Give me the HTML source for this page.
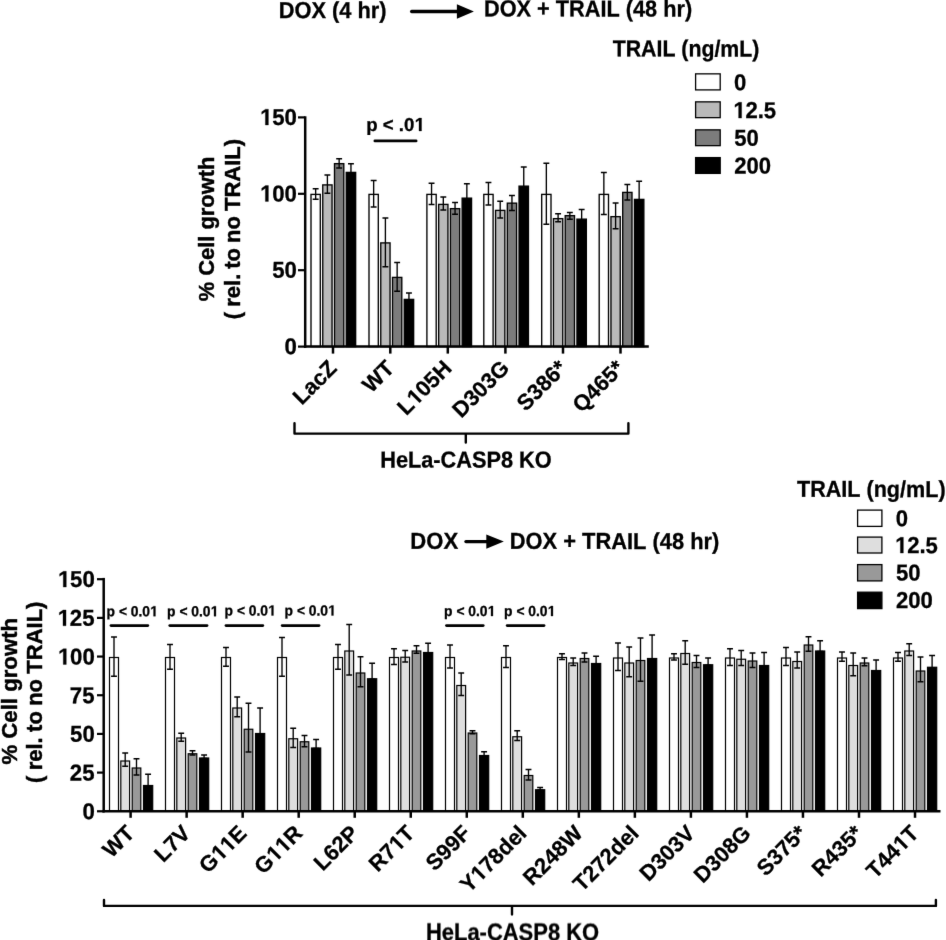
<!DOCTYPE html>
<html><head><meta charset="utf-8"><title>chart</title>
<style>
html,body{margin:0;padding:0;background:#fff;}
body{width:946px;height:940px;overflow:hidden;font-family:'Liberation Sans', sans-serif;}
svg{display:block;}
svg text{font-family:'Liberation Sans', sans-serif;font-weight:bold;fill:#000;stroke:#000;stroke-width:0.3px;}
svg g.t path{fill:#000;stroke:#000;}
svg g.tr text{stroke-width:0.45px;}
</style></head>
<body>
<svg width="946" height="940" viewBox="0 0 946 940">
<defs><filter id="soft" x="0" y="0" width="946" height="940" filterUnits="userSpaceOnUse" color-interpolation-filters="sRGB">
<feConvolveMatrix order="3" kernelMatrix="0.005 0.06 0.005 0.06 0.74 0.06 0.005 0.06 0.005" divisor="1" edgeMode="duplicate" preserveAlpha="false"/>
</filter></defs>
<g filter="url(#soft)">
<rect width="946" height="940" fill="#fff"/>
<rect x="311.00" y="194.40" width="9.30" height="152.20" fill="#ffffff" stroke="#000" stroke-width="1.35"/>
<path d="M315.65 188.75V199.25M312.70 188.75h5.9M312.70 199.25h5.9" stroke="#000" stroke-width="1.35" fill="none"/>
<rect x="322.75" y="184.90" width="9.30" height="161.70" fill="#b9b9b9" stroke="#000" stroke-width="1.35"/>
<path d="M327.40 175.00V193.25M324.45 175.00h5.9M324.45 193.25h5.9" stroke="#000" stroke-width="1.35" fill="none"/>
<rect x="334.50" y="163.65" width="9.30" height="182.95" fill="#7c7c7c" stroke="#000" stroke-width="1.35"/>
<path d="M339.15 158.75V168.00M336.20 158.75h5.9M336.20 168.00h5.9" stroke="#000" stroke-width="1.35" fill="none"/>
<rect x="346.25" y="172.40" width="9.40" height="174.20" fill="#000000" stroke="#000" stroke-width="1.35"/>
<path d="M350.95 163.75V173.50M348.00 163.75h5.9M348.00 173.50h5.9" stroke="#000" stroke-width="1.35" fill="none"/>
<rect x="369.00" y="194.40" width="9.30" height="152.20" fill="#ffffff" stroke="#000" stroke-width="1.35"/>
<path d="M373.65 180.50V207.00M370.70 180.50h5.9M370.70 207.00h5.9" stroke="#000" stroke-width="1.35" fill="none"/>
<rect x="380.75" y="242.90" width="9.30" height="103.70" fill="#b9b9b9" stroke="#000" stroke-width="1.35"/>
<path d="M385.40 218.00V266.75M382.45 218.00h5.9M382.45 266.75h5.9" stroke="#000" stroke-width="1.35" fill="none"/>
<rect x="392.50" y="277.40" width="9.30" height="69.20" fill="#7c7c7c" stroke="#000" stroke-width="1.35"/>
<path d="M397.15 262.50V291.25M394.20 262.50h5.9M394.20 291.25h5.9" stroke="#000" stroke-width="1.35" fill="none"/>
<rect x="404.25" y="299.40" width="9.40" height="47.20" fill="#000000" stroke="#000" stroke-width="1.35"/>
<path d="M408.95 293.00V300.50M406.00 293.00h5.9M406.00 300.50h5.9" stroke="#000" stroke-width="1.35" fill="none"/>
<rect x="426.90" y="194.40" width="9.30" height="152.20" fill="#ffffff" stroke="#000" stroke-width="1.35"/>
<path d="M431.55 183.25V204.50M428.60 183.25h5.9M428.60 204.50h5.9" stroke="#000" stroke-width="1.35" fill="none"/>
<rect x="438.65" y="204.40" width="9.30" height="142.20" fill="#b9b9b9" stroke="#000" stroke-width="1.35"/>
<path d="M443.30 197.00V210.00M440.35 197.00h5.9M440.35 210.00h5.9" stroke="#000" stroke-width="1.35" fill="none"/>
<rect x="450.40" y="208.65" width="9.30" height="137.95" fill="#7c7c7c" stroke="#000" stroke-width="1.35"/>
<path d="M455.05 202.50V214.25M452.10 202.50h5.9M452.10 214.25h5.9" stroke="#000" stroke-width="1.35" fill="none"/>
<rect x="462.15" y="198.15" width="9.40" height="148.45" fill="#000000" stroke="#000" stroke-width="1.35"/>
<path d="M466.85 183.75V199.25M463.90 183.75h5.9M463.90 199.25h5.9" stroke="#000" stroke-width="1.35" fill="none"/>
<rect x="483.80" y="194.40" width="9.30" height="152.20" fill="#ffffff" stroke="#000" stroke-width="1.35"/>
<path d="M488.45 182.50V205.00M485.50 182.50h5.9M485.50 205.00h5.9" stroke="#000" stroke-width="1.35" fill="none"/>
<rect x="495.55" y="210.40" width="9.30" height="136.20" fill="#b9b9b9" stroke="#000" stroke-width="1.35"/>
<path d="M500.20 201.25V218.00M497.25 201.25h5.9M497.25 218.00h5.9" stroke="#000" stroke-width="1.35" fill="none"/>
<rect x="507.30" y="203.15" width="9.30" height="143.45" fill="#7c7c7c" stroke="#000" stroke-width="1.35"/>
<path d="M511.95 195.50V210.50M509.00 195.50h5.9M509.00 210.50h5.9" stroke="#000" stroke-width="1.35" fill="none"/>
<rect x="519.05" y="186.15" width="9.40" height="160.45" fill="#000000" stroke="#000" stroke-width="1.35"/>
<path d="M523.75 167.00V187.25M520.80 167.00h5.9M520.80 187.25h5.9" stroke="#000" stroke-width="1.35" fill="none"/>
<rect x="541.70" y="194.40" width="9.30" height="152.20" fill="#ffffff" stroke="#000" stroke-width="1.35"/>
<path d="M546.35 163.25V224.25M543.40 163.25h5.9M543.40 224.25h5.9" stroke="#000" stroke-width="1.35" fill="none"/>
<rect x="553.45" y="218.65" width="9.30" height="127.95" fill="#b9b9b9" stroke="#000" stroke-width="1.35"/>
<path d="M558.10 213.75V221.75M555.15 213.75h5.9M555.15 221.75h5.9" stroke="#000" stroke-width="1.35" fill="none"/>
<rect x="565.20" y="215.65" width="9.30" height="130.95" fill="#7c7c7c" stroke="#000" stroke-width="1.35"/>
<path d="M569.85 212.50V219.25M566.90 212.50h5.9M566.90 219.25h5.9" stroke="#000" stroke-width="1.35" fill="none"/>
<rect x="576.95" y="219.15" width="9.40" height="127.45" fill="#000000" stroke="#000" stroke-width="1.35"/>
<path d="M581.65 209.50V220.25M578.70 209.50h5.9M578.70 220.25h5.9" stroke="#000" stroke-width="1.35" fill="none"/>
<rect x="599.20" y="194.40" width="9.30" height="152.20" fill="#ffffff" stroke="#000" stroke-width="1.35"/>
<path d="M603.85 172.50V214.50M600.90 172.50h5.9M600.90 214.50h5.9" stroke="#000" stroke-width="1.35" fill="none"/>
<rect x="610.95" y="216.65" width="9.30" height="129.95" fill="#b9b9b9" stroke="#000" stroke-width="1.35"/>
<path d="M615.60 203.00V228.75M612.65 203.00h5.9M612.65 228.75h5.9" stroke="#000" stroke-width="1.35" fill="none"/>
<rect x="622.70" y="192.40" width="9.30" height="154.20" fill="#7c7c7c" stroke="#000" stroke-width="1.35"/>
<path d="M627.35 184.50V200.00M624.40 184.50h5.9M624.40 200.00h5.9" stroke="#000" stroke-width="1.35" fill="none"/>
<rect x="634.45" y="199.40" width="9.40" height="147.20" fill="#000000" stroke="#000" stroke-width="1.35"/>
<path d="M639.15 181.25V200.50M636.20 181.25h5.9M636.20 200.50h5.9" stroke="#000" stroke-width="1.35" fill="none"/>
<path d="M305.2 116.3V347.85" stroke="#000" stroke-width="2.5" fill="none"/>
<path d="M303.95 346.6H648.8" stroke="#000" stroke-width="2.5" fill="none"/>
<path d="M298 117.4H305.2" stroke="#000" stroke-width="2.2" fill="none"/>
<g class="t" transform="translate(259.86 125.0) rotate(0.05) scale(0.9650 1)"><path transform="translate(0.00 0) scale(0.01123 -0.01123)" d="M508 0V1170L170 959V1180L523 1409H789V0Z" stroke-width="26.7"/><text x="12.79" y="0" font-size="23.0" xml:space="preserve">50</text></g>
<path d="M298 193.8H305.2" stroke="#000" stroke-width="2.2" fill="none"/>
<g class="t" transform="translate(259.86 201.4) rotate(0.05) scale(0.9650 1)"><path transform="translate(0.00 0) scale(0.01123 -0.01123)" d="M508 0V1170L170 959V1180L523 1409H789V0Z" stroke-width="26.7"/><text x="12.79" y="0" font-size="23.0" xml:space="preserve">00</text></g>
<path d="M298 270.2H305.2" stroke="#000" stroke-width="2.2" fill="none"/>
<g class="t" transform="translate(272.20 277.8) rotate(0.05) scale(0.9650 1)"><text x="0.00" y="0" font-size="23.0" xml:space="preserve">50</text></g>
<path d="M298 346.6H305.2" stroke="#000" stroke-width="2.2" fill="none"/>
<g class="t" transform="translate(284.52 354.2) rotate(0.05) scale(0.9650 1)"><text x="0.00" y="0" font-size="23.0" xml:space="preserve">0</text></g>
<path d="M333 346.6V353.6" stroke="#000" stroke-width="2.5" fill="none"/>
<path d="M390.3 346.6V353.6" stroke="#000" stroke-width="2.5" fill="none"/>
<path d="M447.8 346.6V353.6" stroke="#000" stroke-width="2.5" fill="none"/>
<path d="M505.4 346.6V353.6" stroke="#000" stroke-width="2.5" fill="none"/>
<path d="M563 346.6V353.6" stroke="#000" stroke-width="2.5" fill="none"/>
<path d="M620.5 346.6V353.6" stroke="#000" stroke-width="2.5" fill="none"/>
<g class="t" transform="translate(338.1 369.5) rotate(-45)"><text x="-51.35" y="0" font-size="22.0" xml:space="preserve">LacZ</text></g>
<g class="t" transform="translate(395.40000000000003 369.5) rotate(-45)"><text x="-34.20" y="0" font-size="22.0" xml:space="preserve">WT</text></g>
<g class="t" transform="translate(452.90000000000003 369.5) rotate(-45)"><text x="-66.03" y="0" font-size="22.0" xml:space="preserve">L</text><path transform="translate(-52.60 0) scale(0.01074 -0.01074)" d="M508 0V1170L170 959V1180L523 1409H789V0Z" stroke-width="27.9"/><text x="-40.36" y="0" font-size="22.0" xml:space="preserve">05H</text></g>
<g class="t" transform="translate(510.5 369.5) rotate(-45)"><text x="-69.71" y="0" font-size="22.0" xml:space="preserve">D303G</text></g>
<g class="t" transform="translate(568.1 369.5) rotate(-45)"><text x="-59.94" y="0" font-size="22.0" xml:space="preserve">S386*</text></g>
<g class="t" transform="translate(625.6 369.5) rotate(-45)"><text x="-62.38" y="0" font-size="22.0" xml:space="preserve">Q465*</text></g>
<g class="t tr" transform="translate(214.3 301.35) rotate(-90) scale(0.9949 1)"><text x="0.00" y="0" font-size="22.0" xml:space="preserve">%</text><text x="25.67" y="0" font-size="22.0" xml:space="preserve">Cell</text><text x="72.14" y="0" font-size="22.0" xml:space="preserve">growth</text></g>
<g class="t tr" transform="translate(240.0 319.15) rotate(-90) scale(1.0000 1)"><text x="0.00" y="0" font-size="22.0" xml:space="preserve">(</text><text x="12.38" y="0" font-size="22.0" xml:space="preserve">rel.</text><text x="50.45" y="0" font-size="22.0" xml:space="preserve">to</text><text x="76.27" y="0" font-size="22.0" xml:space="preserve">no</text><text x="108.20" y="0" font-size="22.0" xml:space="preserve">TRAIL)</text></g>
<g class="t" transform="translate(366.24 130.9) rotate(0.05) scale(0.9959 1)"><text x="0.00" y="0" font-size="18.7" xml:space="preserve">p</text><text x="16.62" y="0" font-size="18.7" xml:space="preserve">&lt;</text><text x="32.74" y="0" font-size="18.7" xml:space="preserve">.0</text><path transform="translate(48.33 0) scale(0.00913 -0.00913)" d="M508 0V1170L170 959V1180L523 1409H789V0Z" stroke-width="32.9"/></g>
<path d="M374.9 140.9H416.1" stroke="#000" stroke-width="2.8" stroke-linecap="round" fill="none"/>
<path d="M294.5 423.2V433.6H628.4V423.2M465.8 433.6V442.6" stroke="#000" stroke-width="2.4" stroke-linecap="round" stroke-linejoin="round" fill="none"/>
<g class="t" transform="translate(380.23 467.4) rotate(0.05) scale(0.9449 1)"><text x="0.00" y="0" font-size="23.0" xml:space="preserve">HeLa-CASP8</text><text x="146.99" y="0" font-size="23.0" xml:space="preserve">KO</text></g>
<g class="t" transform="translate(278.73 18.0) rotate(0.05) scale(0.9489 1)"><text x="0.00" y="0" font-size="23.0" xml:space="preserve">DOX</text><text x="56.23" y="0" font-size="23.0" xml:space="preserve">(4</text><text x="83.07" y="0" font-size="23.0" xml:space="preserve">hr)</text></g>
<path d="M411.65 11.5H458.9" stroke="#000" stroke-width="3.3" stroke-linecap="round" fill="none"/>
<path d="M473.9 11.5L456.9 4.3V18.7Z" fill="#000"/>
<g class="t" transform="translate(483.98 16.3) rotate(0.05) scale(0.9443 1)"><text x="0.00" y="0" font-size="23.0" xml:space="preserve">DOX</text><text x="56.23" y="0" font-size="23.0" xml:space="preserve">+</text><text x="76.05" y="0" font-size="23.0" xml:space="preserve">TRAIL</text><text x="150.16" y="0" font-size="23.0" xml:space="preserve">(48</text><text x="189.79" y="0" font-size="23.0" xml:space="preserve">hr)</text></g>
<g class="t" transform="translate(612.74 56.3) rotate(0.05) scale(0.9257 1)"><text x="0.00" y="0" font-size="23.0" xml:space="preserve">TRAIL</text><text x="74.10" y="0" font-size="23.0" xml:space="preserve">(ng/mL)</text></g>
<rect x="695.6" y="73.85" width="24.6" height="16.05" fill="#ffffff" stroke="#000" stroke-width="1.3"/>
<g class="t" transform="translate(734.07 90.2) rotate(0.05) scale(0.9600 1)"><text x="0.00" y="0" font-size="23.0" xml:space="preserve">0</text></g>
<rect x="695.6" y="101.85" width="24.6" height="15.8" fill="#b9b9b9" stroke="#000" stroke-width="1.3"/>
<g class="t" transform="translate(733.12 118.1) rotate(0.05) scale(0.9600 1)"><path transform="translate(0.00 0) scale(0.01123 -0.01123)" d="M508 0V1170L170 959V1180L523 1409H789V0Z" stroke-width="26.7"/><text x="12.79" y="0" font-size="23.0" xml:space="preserve">2.5</text></g>
<rect x="695.6" y="129.85" width="24.6" height="15.8" fill="#7c7c7c" stroke="#000" stroke-width="1.3"/>
<g class="t" transform="translate(734.29 145.7) rotate(0.05) scale(0.9600 1)"><text x="0.00" y="0" font-size="23.0" xml:space="preserve">50</text></g>
<rect x="695.6" y="157.6" width="24.6" height="15.8" fill="#000000" stroke="#000" stroke-width="1.3"/>
<g class="t" transform="translate(734.18 173.6) rotate(0.05) scale(0.9600 1)"><text x="0.00" y="0" font-size="23.0" xml:space="preserve">200</text></g>
<rect x="109.50" y="657.50" width="9.00" height="153.70" fill="#ffffff" stroke="#000" stroke-width="1.2"/>
<path d="M114.00 637.00V676.25M111.05 637.00h5.9M111.05 676.25h5.9" stroke="#000" stroke-width="1.35" fill="none"/>
<rect x="120.80" y="761.00" width="8.80" height="50.20" fill="#dedede" stroke="#000" stroke-width="1.2"/>
<path d="M125.20 753.00V766.25M122.25 753.00h5.9M122.25 766.25h5.9" stroke="#000" stroke-width="1.35" fill="none"/>
<rect x="132.20" y="768.00" width="8.60" height="43.20" fill="#999999" stroke="#000" stroke-width="1.2"/>
<path d="M136.50 758.75V775.00M133.55 758.75h5.9M133.55 775.00h5.9" stroke="#000" stroke-width="1.35" fill="none"/>
<rect x="143.50" y="785.50" width="9.20" height="25.70" fill="#000000" stroke="#000" stroke-width="1.2"/>
<path d="M148.10 774.25V786.00M145.15 774.25h5.9M145.15 786.00h5.9" stroke="#000" stroke-width="1.35" fill="none"/>
<rect x="165.50" y="657.50" width="9.00" height="153.70" fill="#ffffff" stroke="#000" stroke-width="1.2"/>
<path d="M170.00 644.50V669.25M167.05 644.50h5.9M167.05 669.25h5.9" stroke="#000" stroke-width="1.35" fill="none"/>
<rect x="176.80" y="738.00" width="8.80" height="73.20" fill="#dedede" stroke="#000" stroke-width="1.2"/>
<path d="M181.20 733.25V741.25M178.25 733.25h5.9M178.25 741.25h5.9" stroke="#000" stroke-width="1.35" fill="none"/>
<rect x="188.20" y="753.75" width="8.60" height="57.45" fill="#999999" stroke="#000" stroke-width="1.2"/>
<path d="M192.50 750.75V755.00M189.55 750.75h5.9M189.55 755.00h5.9" stroke="#000" stroke-width="1.35" fill="none"/>
<rect x="199.50" y="758.00" width="9.20" height="53.20" fill="#000000" stroke="#000" stroke-width="1.2"/>
<path d="M204.10 755.00V758.50M201.15 755.00h5.9M201.15 758.50h5.9" stroke="#000" stroke-width="1.35" fill="none"/>
<rect x="221.50" y="657.50" width="9.00" height="153.70" fill="#ffffff" stroke="#000" stroke-width="1.2"/>
<path d="M226.00 647.50V666.25M223.05 647.50h5.9M223.05 666.25h5.9" stroke="#000" stroke-width="1.35" fill="none"/>
<rect x="232.80" y="708.00" width="8.80" height="103.20" fill="#dedede" stroke="#000" stroke-width="1.2"/>
<path d="M237.20 697.00V716.75M234.25 697.00h5.9M234.25 716.75h5.9" stroke="#000" stroke-width="1.35" fill="none"/>
<rect x="244.20" y="729.25" width="8.60" height="81.95" fill="#999999" stroke="#000" stroke-width="1.2"/>
<path d="M248.50 703.25V752.00M245.55 703.25h5.9M245.55 752.00h5.9" stroke="#000" stroke-width="1.35" fill="none"/>
<rect x="255.50" y="733.50" width="9.20" height="77.70" fill="#000000" stroke="#000" stroke-width="1.2"/>
<path d="M260.10 708.00V734.00M257.15 708.00h5.9M257.15 734.00h5.9" stroke="#000" stroke-width="1.35" fill="none"/>
<rect x="277.50" y="657.50" width="9.00" height="153.70" fill="#ffffff" stroke="#000" stroke-width="1.2"/>
<path d="M282.00 637.50V676.25M279.05 637.50h5.9M279.05 676.25h5.9" stroke="#000" stroke-width="1.35" fill="none"/>
<rect x="288.80" y="738.75" width="8.80" height="72.45" fill="#dedede" stroke="#000" stroke-width="1.2"/>
<path d="M293.20 728.25V747.50M290.25 728.25h5.9M290.25 747.50h5.9" stroke="#000" stroke-width="1.35" fill="none"/>
<rect x="300.20" y="741.75" width="8.60" height="69.45" fill="#999999" stroke="#000" stroke-width="1.2"/>
<path d="M304.50 735.50V746.75M301.55 735.50h5.9M301.55 746.75h5.9" stroke="#000" stroke-width="1.35" fill="none"/>
<rect x="311.50" y="748.00" width="9.20" height="63.20" fill="#000000" stroke="#000" stroke-width="1.2"/>
<path d="M316.10 739.50V748.50M313.15 739.50h5.9M313.15 748.50h5.9" stroke="#000" stroke-width="1.35" fill="none"/>
<rect x="333.50" y="657.50" width="9.00" height="153.70" fill="#ffffff" stroke="#000" stroke-width="1.2"/>
<path d="M338.00 644.50V669.25M335.05 644.50h5.9M335.05 669.25h5.9" stroke="#000" stroke-width="1.35" fill="none"/>
<rect x="344.80" y="651.00" width="8.80" height="160.20" fill="#dedede" stroke="#000" stroke-width="1.2"/>
<path d="M349.20 624.50V675.00M346.25 624.50h5.9M346.25 675.00h5.9" stroke="#000" stroke-width="1.35" fill="none"/>
<rect x="356.20" y="673.00" width="8.60" height="138.20" fill="#999999" stroke="#000" stroke-width="1.2"/>
<path d="M360.50 656.75V686.75M357.55 656.75h5.9M357.55 686.75h5.9" stroke="#000" stroke-width="1.35" fill="none"/>
<rect x="367.50" y="678.75" width="9.20" height="132.45" fill="#000000" stroke="#000" stroke-width="1.2"/>
<path d="M372.10 663.25V679.25M369.15 663.25h5.9M369.15 679.25h5.9" stroke="#000" stroke-width="1.35" fill="none"/>
<rect x="389.50" y="657.50" width="9.00" height="153.70" fill="#ffffff" stroke="#000" stroke-width="1.2"/>
<path d="M394.00 648.75V664.50M391.05 648.75h5.9M391.05 664.50h5.9" stroke="#000" stroke-width="1.35" fill="none"/>
<rect x="400.80" y="657.25" width="8.80" height="153.95" fill="#dedede" stroke="#000" stroke-width="1.2"/>
<path d="M405.20 650.50V662.00M402.25 650.50h5.9M402.25 662.00h5.9" stroke="#000" stroke-width="1.35" fill="none"/>
<rect x="412.20" y="651.00" width="8.60" height="160.20" fill="#999999" stroke="#000" stroke-width="1.2"/>
<path d="M416.50 645.75V653.25M413.55 645.75h5.9M413.55 653.25h5.9" stroke="#000" stroke-width="1.35" fill="none"/>
<rect x="423.50" y="652.50" width="9.20" height="158.70" fill="#000000" stroke="#000" stroke-width="1.2"/>
<path d="M428.10 643.25V653.00M425.15 643.25h5.9M425.15 653.00h5.9" stroke="#000" stroke-width="1.35" fill="none"/>
<rect x="445.50" y="657.50" width="9.00" height="153.70" fill="#ffffff" stroke="#000" stroke-width="1.2"/>
<path d="M450.00 645.00V668.00M447.05 645.00h5.9M447.05 668.00h5.9" stroke="#000" stroke-width="1.35" fill="none"/>
<rect x="456.80" y="685.50" width="8.80" height="125.70" fill="#dedede" stroke="#000" stroke-width="1.2"/>
<path d="M461.20 673.00V695.50M458.25 673.00h5.9M458.25 695.50h5.9" stroke="#000" stroke-width="1.35" fill="none"/>
<rect x="468.20" y="733.00" width="8.60" height="78.20" fill="#999999" stroke="#000" stroke-width="1.2"/>
<path d="M472.50 730.75V733.75M469.55 730.75h5.9M469.55 733.75h5.9" stroke="#000" stroke-width="1.35" fill="none"/>
<rect x="479.50" y="755.50" width="9.20" height="55.70" fill="#000000" stroke="#000" stroke-width="1.2"/>
<path d="M484.10 751.75V756.00M481.15 751.75h5.9M481.15 756.00h5.9" stroke="#000" stroke-width="1.35" fill="none"/>
<rect x="501.50" y="657.50" width="9.00" height="153.70" fill="#ffffff" stroke="#000" stroke-width="1.2"/>
<path d="M506.00 645.75V667.50M503.05 645.75h5.9M503.05 667.50h5.9" stroke="#000" stroke-width="1.35" fill="none"/>
<rect x="512.80" y="736.75" width="8.80" height="74.45" fill="#dedede" stroke="#000" stroke-width="1.2"/>
<path d="M517.20 730.75V740.50M514.25 730.75h5.9M514.25 740.50h5.9" stroke="#000" stroke-width="1.35" fill="none"/>
<rect x="524.20" y="775.50" width="8.60" height="35.70" fill="#999999" stroke="#000" stroke-width="1.2"/>
<path d="M528.50 769.50V780.00M525.55 769.50h5.9M525.55 780.00h5.9" stroke="#000" stroke-width="1.35" fill="none"/>
<rect x="535.50" y="789.75" width="9.20" height="21.45" fill="#000000" stroke="#000" stroke-width="1.2"/>
<path d="M540.10 787.50V790.25M537.15 787.50h5.9M537.15 790.25h5.9" stroke="#000" stroke-width="1.35" fill="none"/>
<rect x="557.50" y="657.50" width="9.00" height="153.70" fill="#ffffff" stroke="#000" stroke-width="1.2"/>
<path d="M562.00 653.75V659.50M559.05 653.75h5.9M559.05 659.50h5.9" stroke="#000" stroke-width="1.35" fill="none"/>
<rect x="568.80" y="663.00" width="8.80" height="148.20" fill="#dedede" stroke="#000" stroke-width="1.2"/>
<path d="M573.20 658.00V665.50M570.25 658.00h5.9M570.25 665.50h5.9" stroke="#000" stroke-width="1.35" fill="none"/>
<rect x="580.20" y="658.50" width="8.60" height="152.70" fill="#999999" stroke="#000" stroke-width="1.2"/>
<path d="M584.50 653.00V662.00M581.55 653.00h5.9M581.55 662.00h5.9" stroke="#000" stroke-width="1.35" fill="none"/>
<rect x="591.50" y="663.50" width="9.20" height="147.70" fill="#000000" stroke="#000" stroke-width="1.2"/>
<path d="M596.10 656.25V664.00M593.15 656.25h5.9M593.15 664.00h5.9" stroke="#000" stroke-width="1.35" fill="none"/>
<rect x="613.50" y="658.00" width="9.00" height="153.20" fill="#ffffff" stroke="#000" stroke-width="1.2"/>
<path d="M618.00 643.00V670.50M615.05 643.00h5.9M615.05 670.50h5.9" stroke="#000" stroke-width="1.35" fill="none"/>
<rect x="624.80" y="663.00" width="8.80" height="148.20" fill="#dedede" stroke="#000" stroke-width="1.2"/>
<path d="M629.20 647.00V676.75M626.25 647.00h5.9M626.25 676.75h5.9" stroke="#000" stroke-width="1.35" fill="none"/>
<rect x="636.20" y="660.50" width="8.60" height="150.70" fill="#999999" stroke="#000" stroke-width="1.2"/>
<path d="M640.50 638.00V681.25M637.55 638.00h5.9M637.55 681.25h5.9" stroke="#000" stroke-width="1.35" fill="none"/>
<rect x="647.50" y="658.50" width="9.20" height="152.70" fill="#000000" stroke="#000" stroke-width="1.2"/>
<path d="M652.10 635.00V659.00M649.15 635.00h5.9M649.15 659.00h5.9" stroke="#000" stroke-width="1.35" fill="none"/>
<rect x="669.50" y="658.00" width="9.00" height="153.20" fill="#ffffff" stroke="#000" stroke-width="1.2"/>
<path d="M674.00 653.75V660.00M671.05 653.75h5.9M671.05 660.00h5.9" stroke="#000" stroke-width="1.35" fill="none"/>
<rect x="680.80" y="653.50" width="8.80" height="157.70" fill="#dedede" stroke="#000" stroke-width="1.2"/>
<path d="M685.20 640.75V664.25M682.25 640.75h5.9M682.25 664.25h5.9" stroke="#000" stroke-width="1.35" fill="none"/>
<rect x="692.20" y="662.50" width="8.60" height="148.70" fill="#999999" stroke="#000" stroke-width="1.2"/>
<path d="M696.50 655.50V667.50M693.55 655.50h5.9M693.55 667.50h5.9" stroke="#000" stroke-width="1.35" fill="none"/>
<rect x="703.50" y="664.75" width="9.20" height="146.45" fill="#000000" stroke="#000" stroke-width="1.2"/>
<path d="M708.10 658.00V665.25M705.15 658.00h5.9M705.15 665.25h5.9" stroke="#000" stroke-width="1.35" fill="none"/>
<rect x="725.50" y="658.00" width="9.00" height="153.20" fill="#ffffff" stroke="#000" stroke-width="1.2"/>
<path d="M730.00 648.75V665.50M727.05 648.75h5.9M727.05 665.50h5.9" stroke="#000" stroke-width="1.35" fill="none"/>
<rect x="736.80" y="659.25" width="8.80" height="151.95" fill="#dedede" stroke="#000" stroke-width="1.2"/>
<path d="M741.20 650.50V665.50M738.25 650.50h5.9M738.25 665.50h5.9" stroke="#000" stroke-width="1.35" fill="none"/>
<rect x="748.20" y="661.00" width="8.60" height="150.20" fill="#999999" stroke="#000" stroke-width="1.2"/>
<path d="M752.50 653.00V667.50M749.55 653.00h5.9M749.55 667.50h5.9" stroke="#000" stroke-width="1.35" fill="none"/>
<rect x="759.50" y="665.50" width="9.20" height="145.70" fill="#000000" stroke="#000" stroke-width="1.2"/>
<path d="M764.10 652.50V666.00M761.15 652.50h5.9M761.15 666.00h5.9" stroke="#000" stroke-width="1.35" fill="none"/>
<rect x="781.50" y="658.00" width="9.00" height="153.20" fill="#ffffff" stroke="#000" stroke-width="1.2"/>
<path d="M786.00 647.50V665.50M783.05 647.50h5.9M783.05 665.50h5.9" stroke="#000" stroke-width="1.35" fill="none"/>
<rect x="792.80" y="661.50" width="8.80" height="149.70" fill="#dedede" stroke="#000" stroke-width="1.2"/>
<path d="M797.20 652.00V668.00M794.25 652.00h5.9M794.25 668.00h5.9" stroke="#000" stroke-width="1.35" fill="none"/>
<rect x="804.20" y="645.00" width="8.60" height="166.20" fill="#999999" stroke="#000" stroke-width="1.2"/>
<path d="M808.50 636.75V651.25M805.55 636.75h5.9M805.55 651.25h5.9" stroke="#000" stroke-width="1.35" fill="none"/>
<rect x="815.50" y="651.00" width="9.20" height="160.20" fill="#000000" stroke="#000" stroke-width="1.2"/>
<path d="M820.10 640.75V651.50M817.15 640.75h5.9M817.15 651.50h5.9" stroke="#000" stroke-width="1.35" fill="none"/>
<rect x="837.50" y="658.00" width="9.00" height="153.20" fill="#ffffff" stroke="#000" stroke-width="1.2"/>
<path d="M842.00 652.00V661.25M839.05 652.00h5.9M839.05 661.25h5.9" stroke="#000" stroke-width="1.35" fill="none"/>
<rect x="848.80" y="665.50" width="8.80" height="145.70" fill="#dedede" stroke="#000" stroke-width="1.2"/>
<path d="M853.20 653.00V675.75M850.25 653.00h5.9M850.25 675.75h5.9" stroke="#000" stroke-width="1.35" fill="none"/>
<rect x="860.20" y="663.00" width="8.60" height="148.20" fill="#999999" stroke="#000" stroke-width="1.2"/>
<path d="M864.50 658.00V665.75M861.55 658.00h5.9M861.55 665.75h5.9" stroke="#000" stroke-width="1.35" fill="none"/>
<rect x="871.50" y="670.50" width="9.20" height="140.70" fill="#000000" stroke="#000" stroke-width="1.2"/>
<path d="M876.10 660.00V671.00M873.15 660.00h5.9M873.15 671.00h5.9" stroke="#000" stroke-width="1.35" fill="none"/>
<rect x="893.50" y="658.00" width="9.00" height="153.20" fill="#ffffff" stroke="#000" stroke-width="1.2"/>
<path d="M898.00 652.50V661.25M895.05 652.50h5.9M895.05 661.25h5.9" stroke="#000" stroke-width="1.35" fill="none"/>
<rect x="904.80" y="651.00" width="8.80" height="160.20" fill="#dedede" stroke="#000" stroke-width="1.2"/>
<path d="M909.20 643.75V655.50M906.25 643.75h5.9M906.25 655.50h5.9" stroke="#000" stroke-width="1.35" fill="none"/>
<rect x="916.20" y="671.00" width="8.60" height="140.20" fill="#999999" stroke="#000" stroke-width="1.2"/>
<path d="M920.50 657.00V681.75M917.55 657.00h5.9M917.55 681.75h5.9" stroke="#000" stroke-width="1.35" fill="none"/>
<rect x="927.50" y="667.25" width="9.20" height="143.95" fill="#000000" stroke="#000" stroke-width="1.2"/>
<path d="M932.10 655.50V667.75M929.15 655.50h5.9M929.15 667.75h5.9" stroke="#000" stroke-width="1.35" fill="none"/>
<path d="M103.7 577.9V812.45" stroke="#000" stroke-width="2.5" fill="none"/>
<path d="M102.45 811.2H940.5" stroke="#000" stroke-width="2.5" fill="none"/>
<path d="M97 579.20H103.7" stroke="#000" stroke-width="2.2" fill="none"/>
<g class="t" transform="translate(57.76 587.1) rotate(0.05) scale(0.9650 1)"><path transform="translate(0.00 0) scale(0.01123 -0.01123)" d="M508 0V1170L170 959V1180L523 1409H789V0Z" stroke-width="26.7"/><text x="12.79" y="0" font-size="23.0" xml:space="preserve">50</text></g>
<path d="M97 617.88H103.7" stroke="#000" stroke-width="2.2" fill="none"/>
<g class="t" transform="translate(57.48 625.78) rotate(0.05) scale(0.9650 1)"><path transform="translate(0.00 0) scale(0.01123 -0.01123)" d="M508 0V1170L170 959V1180L523 1409H789V0Z" stroke-width="26.7"/><text x="12.79" y="0" font-size="23.0" xml:space="preserve">25</text></g>
<path d="M97 656.56H103.7" stroke="#000" stroke-width="2.2" fill="none"/>
<g class="t" transform="translate(57.76 664.46) rotate(0.05) scale(0.9650 1)"><path transform="translate(0.00 0) scale(0.01123 -0.01123)" d="M508 0V1170L170 959V1180L523 1409H789V0Z" stroke-width="26.7"/><text x="12.79" y="0" font-size="23.0" xml:space="preserve">00</text></g>
<path d="M97 695.24H103.7" stroke="#000" stroke-width="2.2" fill="none"/>
<g class="t" transform="translate(69.82 703.14) rotate(0.05) scale(0.9650 1)"><text x="0.00" y="0" font-size="23.0" xml:space="preserve">75</text></g>
<path d="M97 733.92H103.7" stroke="#000" stroke-width="2.2" fill="none"/>
<g class="t" transform="translate(70.10 741.82) rotate(0.05) scale(0.9650 1)"><text x="0.00" y="0" font-size="23.0" xml:space="preserve">50</text></g>
<path d="M97 772.60H103.7" stroke="#000" stroke-width="2.2" fill="none"/>
<g class="t" transform="translate(69.82 780.5) rotate(0.05) scale(0.9650 1)"><text x="0.00" y="0" font-size="23.0" xml:space="preserve">25</text></g>
<path d="M97 811.28H103.7" stroke="#000" stroke-width="2.2" fill="none"/>
<g class="t" transform="translate(82.42 819.18) rotate(0.05) scale(0.9650 1)"><text x="0.00" y="0" font-size="23.0" xml:space="preserve">0</text></g>
<path d="M130.60 811.2V817.8" stroke="#000" stroke-width="2.5" fill="none"/>
<g class="t" transform="translate(135.7 834.6) rotate(-45)"><text x="-34.20" y="0" font-size="22.0" xml:space="preserve">WT</text></g>
<path d="M186.63 811.2V817.8" stroke="#000" stroke-width="2.5" fill="none"/>
<g class="t" transform="translate(191.73 834.6) rotate(-45)"><text x="-40.35" y="0" font-size="22.0" xml:space="preserve">L7V</text></g>
<path d="M242.66 811.2V817.8" stroke="#000" stroke-width="2.5" fill="none"/>
<g class="t" transform="translate(247.76 834.6) rotate(-45)"><text x="-56.26" y="0" font-size="22.0" xml:space="preserve">G</text><path transform="translate(-39.14 0) scale(0.01074 -0.01074)" d="M508 0V1170L170 959V1180L523 1409H789V0Z" stroke-width="27.9"/><path transform="translate(-26.91 0) scale(0.01074 -0.01074)" d="M508 0V1170L170 959V1180L523 1409H789V0Z" stroke-width="27.9"/><text x="-14.67" y="0" font-size="22.0" xml:space="preserve">E</text></g>
<path d="M298.69 811.2V817.8" stroke="#000" stroke-width="2.5" fill="none"/>
<g class="t" transform="translate(303.79 834.6) rotate(-45)"><text x="-57.47" y="0" font-size="22.0" xml:space="preserve">G</text><path transform="translate(-40.36 0) scale(0.01074 -0.01074)" d="M508 0V1170L170 959V1180L523 1409H789V0Z" stroke-width="27.9"/><path transform="translate(-28.12 0) scale(0.01074 -0.01074)" d="M508 0V1170L170 959V1180L523 1409H789V0Z" stroke-width="27.9"/><text x="-15.89" y="0" font-size="22.0" xml:space="preserve">R</text></g>
<path d="M354.72 811.2V817.8" stroke="#000" stroke-width="2.5" fill="none"/>
<g class="t" transform="translate(359.82 834.6) rotate(-45)"><text x="-52.58" y="0" font-size="22.0" xml:space="preserve">L62P</text></g>
<path d="M410.75 811.2V817.8" stroke="#000" stroke-width="2.5" fill="none"/>
<g class="t" transform="translate(415.85 834.6) rotate(-45)"><text x="-53.80" y="0" font-size="22.0" xml:space="preserve">R7</text><path transform="translate(-25.67 0) scale(0.01074 -0.01074)" d="M508 0V1170L170 959V1180L523 1409H789V0Z" stroke-width="27.9"/><text x="-13.44" y="0" font-size="22.0" xml:space="preserve">T</text></g>
<path d="M466.78 811.2V817.8" stroke="#000" stroke-width="2.5" fill="none"/>
<g class="t" transform="translate(471.88 834.6) rotate(-45)"><text x="-52.58" y="0" font-size="22.0" xml:space="preserve">S99F</text></g>
<path d="M522.81 811.2V817.8" stroke="#000" stroke-width="2.5" fill="none"/>
<g class="t" transform="translate(527.91 834.6) rotate(-45)"><text x="-83.17" y="0" font-size="22.0" xml:space="preserve">Y</text><path transform="translate(-68.49 0) scale(0.01074 -0.01074)" d="M508 0V1170L170 959V1180L523 1409H789V0Z" stroke-width="27.9"/><text x="-56.26" y="0" font-size="22.0" xml:space="preserve">78del</text></g>
<path d="M578.84 811.2V817.8" stroke="#000" stroke-width="2.5" fill="none"/>
<g class="t" transform="translate(583.94 834.6) rotate(-45)"><text x="-73.36" y="0" font-size="22.0" xml:space="preserve">R248W</text></g>
<path d="M634.87 811.2V817.8" stroke="#000" stroke-width="2.5" fill="none"/>
<g class="t" transform="translate(639.97 834.6) rotate(-45)"><text x="-81.93" y="0" font-size="22.0" xml:space="preserve">T272del</text></g>
<path d="M690.90 811.2V817.8" stroke="#000" stroke-width="2.5" fill="none"/>
<g class="t" transform="translate(696.0 834.6) rotate(-45)"><text x="-67.27" y="0" font-size="22.0" xml:space="preserve">D303V</text></g>
<path d="M746.93 811.2V817.8" stroke="#000" stroke-width="2.5" fill="none"/>
<g class="t" transform="translate(752.03 834.6) rotate(-45)"><text x="-69.71" y="0" font-size="22.0" xml:space="preserve">D308G</text></g>
<path d="M802.96 811.2V817.8" stroke="#000" stroke-width="2.5" fill="none"/>
<g class="t" transform="translate(808.06 834.6) rotate(-45)"><text x="-59.94" y="0" font-size="22.0" xml:space="preserve">S375*</text></g>
<path d="M858.99 811.2V817.8" stroke="#000" stroke-width="2.5" fill="none"/>
<g class="t" transform="translate(864.09 834.6) rotate(-45)"><text x="-61.16" y="0" font-size="22.0" xml:space="preserve">R435*</text></g>
<path d="M915.02 811.2V817.8" stroke="#000" stroke-width="2.5" fill="none"/>
<g class="t" transform="translate(920.12 834.6) rotate(-45)"><text x="-63.58" y="0" font-size="22.0" xml:space="preserve">T44</text><path transform="translate(-25.67 0) scale(0.01074 -0.01074)" d="M508 0V1170L170 959V1180L523 1409H789V0Z" stroke-width="27.9"/><text x="-13.44" y="0" font-size="22.0" xml:space="preserve">T</text></g>
<g class="t tr" transform="translate(16.6 764.60) rotate(-90) scale(1.0088 1)"><text x="0.00" y="0" font-size="22.0" xml:space="preserve">%</text><text x="25.67" y="0" font-size="22.0" xml:space="preserve">Cell</text><text x="72.14" y="0" font-size="22.0" xml:space="preserve">growth</text></g>
<g class="t tr" transform="translate(42.3 782.95) rotate(-90) scale(1.0000 1)"><text x="0.00" y="0" font-size="22.0" xml:space="preserve">(</text><text x="12.65" y="0" font-size="22.0" xml:space="preserve">rel.</text><text x="51.00" y="0" font-size="22.0" xml:space="preserve">to</text><text x="77.09" y="0" font-size="22.0" xml:space="preserve">no</text><text x="109.29" y="0" font-size="22.0" xml:space="preserve">TRAIL)</text></g>
<g class="t" transform="translate(106.55 616.2) rotate(0.05) scale(0.9499 1)"><text x="0.00" y="0" font-size="14.6" xml:space="preserve">p</text><text x="12.98" y="0" font-size="14.6" xml:space="preserve">&lt;</text><text x="25.56" y="0" font-size="14.6" xml:space="preserve">0.0</text><path transform="translate(45.85 0) scale(0.00713 -0.00713)" d="M508 0V1170L170 959V1180L523 1409H789V0Z" stroke-width="42.1"/></g>
<path d="M111.0 625.6H147.8" stroke="#000" stroke-width="2.8" stroke-linecap="round" fill="none"/>
<g class="t" transform="translate(167.05 616.2) rotate(0.05) scale(0.9499 1)"><text x="0.00" y="0" font-size="14.6" xml:space="preserve">p</text><text x="12.98" y="0" font-size="14.6" xml:space="preserve">&lt;</text><text x="25.56" y="0" font-size="14.6" xml:space="preserve">0.0</text><path transform="translate(45.85 0) scale(0.00713 -0.00713)" d="M508 0V1170L170 959V1180L523 1409H789V0Z" stroke-width="42.1"/></g>
<path d="M169.8 625.6H207.0" stroke="#000" stroke-width="2.8" stroke-linecap="round" fill="none"/>
<g class="t" transform="translate(224.55 615.4) rotate(0.05) scale(0.9499 1)"><text x="0.00" y="0" font-size="14.6" xml:space="preserve">p</text><text x="12.98" y="0" font-size="14.6" xml:space="preserve">&lt;</text><text x="25.56" y="0" font-size="14.6" xml:space="preserve">0.0</text><path transform="translate(45.85 0) scale(0.00713 -0.00713)" d="M508 0V1170L170 959V1180L523 1409H789V0Z" stroke-width="42.1"/></g>
<path d="M226.0 625.6H262.8" stroke="#000" stroke-width="2.8" stroke-linecap="round" fill="none"/>
<g class="t" transform="translate(284.55 615.4) rotate(0.05) scale(0.9499 1)"><text x="0.00" y="0" font-size="14.6" xml:space="preserve">p</text><text x="12.98" y="0" font-size="14.6" xml:space="preserve">&lt;</text><text x="25.56" y="0" font-size="14.6" xml:space="preserve">0.0</text><path transform="translate(45.85 0) scale(0.00713 -0.00713)" d="M508 0V1170L170 959V1180L523 1409H789V0Z" stroke-width="42.1"/></g>
<path d="M282.2 625.6H319.0" stroke="#000" stroke-width="2.8" stroke-linecap="round" fill="none"/>
<g class="t" transform="translate(444.05 616) rotate(0.05) scale(0.9499 1)"><text x="0.00" y="0" font-size="14.6" xml:space="preserve">p</text><text x="12.98" y="0" font-size="14.6" xml:space="preserve">&lt;</text><text x="25.56" y="0" font-size="14.6" xml:space="preserve">0.0</text><path transform="translate(45.85 0) scale(0.00713 -0.00713)" d="M508 0V1170L170 959V1180L523 1409H789V0Z" stroke-width="42.1"/></g>
<path d="M446.5 625.6H483.2" stroke="#000" stroke-width="2.8" stroke-linecap="round" fill="none"/>
<g class="t" transform="translate(504.05 616) rotate(0.05) scale(0.9499 1)"><text x="0.00" y="0" font-size="14.6" xml:space="preserve">p</text><text x="12.98" y="0" font-size="14.6" xml:space="preserve">&lt;</text><text x="25.56" y="0" font-size="14.6" xml:space="preserve">0.0</text><path transform="translate(45.85 0) scale(0.00713 -0.00713)" d="M508 0V1170L170 959V1180L523 1409H789V0Z" stroke-width="42.1"/></g>
<path d="M507.2 625.6H544.0" stroke="#000" stroke-width="2.8" stroke-linecap="round" fill="none"/>
<path d="M104 900V905.9H935.9V900M512 905.9V914.4" stroke="#000" stroke-width="2.4" stroke-linecap="round" stroke-linejoin="round" fill="none"/>
<g class="t" transform="translate(425.97 940.4) rotate(0.05) scale(0.9547 1)"><text x="0.00" y="0" font-size="23.0" xml:space="preserve">HeLa-CASP8</text><text x="146.99" y="0" font-size="23.0" xml:space="preserve">KO</text></g>
<g class="t" transform="translate(410.36 548.8) rotate(0.05) scale(0.9611 1)"><text x="0.00" y="0" font-size="23.0" xml:space="preserve">DOX</text></g>
<path d="M465.95 541.6H488.3" stroke="#000" stroke-width="3.3" stroke-linecap="round" fill="none"/>
<path d="M503.8 541.6L486.3 534.4V548.8000000000001Z" fill="#000"/>
<g class="t" transform="translate(509.72 548.8) rotate(0.05) scale(0.9512 1)"><text x="0.00" y="0" font-size="23.0" xml:space="preserve">DOX</text><text x="56.23" y="0" font-size="23.0" xml:space="preserve">+</text><text x="76.05" y="0" font-size="23.0" xml:space="preserve">TRAIL</text><text x="150.16" y="0" font-size="23.0" xml:space="preserve">(48</text><text x="189.79" y="0" font-size="23.0" xml:space="preserve">hr)</text></g>
<g class="t" transform="translate(796.98 496.8) rotate(0.05) scale(0.9384 1)"><text x="0.00" y="0" font-size="23.0" xml:space="preserve">TRAIL</text><text x="74.10" y="0" font-size="23.0" xml:space="preserve">(ng/mL)</text></g>
<rect x="857.6" y="510.1" width="24.3" height="16.3" fill="#ffffff" stroke="#000" stroke-width="1.3"/>
<g class="t" transform="translate(895.82 526.3) rotate(0.05) scale(0.9600 1)"><text x="0.00" y="0" font-size="23.0" xml:space="preserve">0</text></g>
<rect x="857.6" y="537.1" width="24.3" height="15.900000000000023" fill="#dedede" stroke="#000" stroke-width="1.3"/>
<g class="t" transform="translate(894.87 553.1) rotate(0.05) scale(0.9600 1)"><path transform="translate(0.00 0) scale(0.01123 -0.01123)" d="M508 0V1170L170 959V1180L523 1409H789V0Z" stroke-width="26.7"/><text x="12.79" y="0" font-size="23.0" xml:space="preserve">2.5</text></g>
<rect x="857.6" y="564.6" width="24.3" height="16.3" fill="#999999" stroke="#000" stroke-width="1.3"/>
<g class="t" transform="translate(896.04 580.5) rotate(0.05) scale(0.9600 1)"><text x="0.00" y="0" font-size="23.0" xml:space="preserve">50</text></g>
<rect x="857.6" y="592.2" width="24.3" height="16.400000000000023" fill="#000000" stroke="#000" stroke-width="1.3"/>
<g class="t" transform="translate(895.93 608) rotate(0.05) scale(0.9600 1)"><text x="0.00" y="0" font-size="23.0" xml:space="preserve">200</text></g>
</g>
</svg>
</body></html>
